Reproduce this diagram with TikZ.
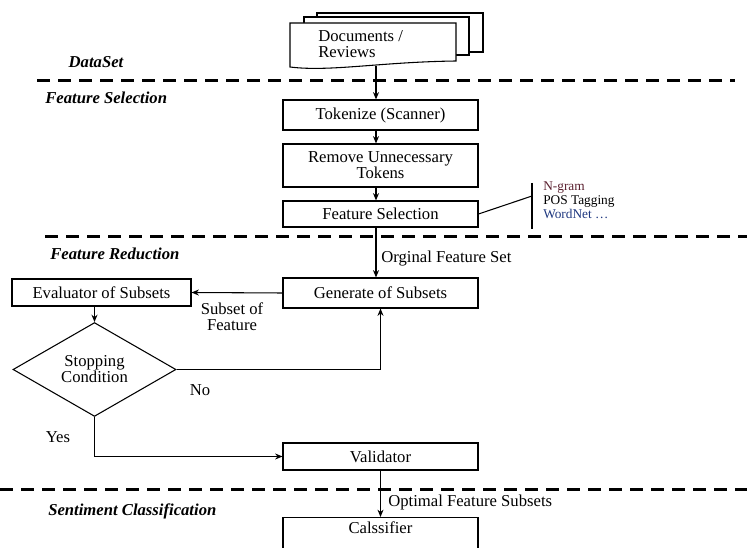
\documentclass[tikz,border=0pt]{standalone}
\usepackage{fontspec}
\setmainfont{Liberation Serif}
\usetikzlibrary{calc, positioning, arrows.meta, shapes.geometric}
\tikzstyle{box}=[draw, line width=0.8pt, shape=rectangle, inner sep=0pt, minimum width=146.25pt, align=center, font=\fontsize{12.5}{12}\selectfont]
\tikzstyle{sect}=[inner sep=0pt, font=\fontsize{12.5}{12}\selectfont\bfseries\itshape]
\tikzstyle{lbl}=[inner sep=0pt, align=center, font=\fontsize{12.5}{12}\selectfont]
\tikzstyle{tool}=[inner sep=0pt, align=left, font=\fontsize{10}{10.5}\selectfont]
\tikzstyle{sep}=[line width=2.25pt, dash pattern=on 9.75pt off 6pt]
\tikzstyle{page}=[draw, line width=0.8pt, fill=white]
\definecolor{ngram}{rgb}{0.35,0.12,0.18}
\definecolor{wnet}{rgb}{0.12,0.22,0.5}
\tikzset{>={Stealth[length=5.5pt, width=4.5pt]}}

\begin{document}
\begin{tikzpicture}[x=0.75pt, y=-0.75pt]
\useasboundingbox (0,0) rectangle (747,548);

% stacked documents
\draw[page] (317,13) rectangle (483,52);
\draw[page] (304,17) rectangle (469,55);
\draw[page] (290,23) -- (456,23) -- (456,61) .. controls (380,62) and (330,72) .. (290,67) -- cycle;
\node[lbl, align=left, anchor=west] (docs) at (318,44) {Documents /\\Reviews};
\coordinate (docsbot) at (376,66);

% layers
\draw[sep] (37,81) -- (735,81);
\draw[sep] (45,237) -- (747,237);
\draw[sep] (0,490) -- (747,490);
\node[sect] (dsl) at (96,62) {DataSet};
\node[sect, anchor=west] (fsl) at (45,98) {Feature Selection};
\node[sect, anchor=west] (frl) at (50,254) {Feature Reduction};
\node[sect, anchor=west] (scl) at (48,511) {Sentiment Classification};

% boxes
\node[box, minimum height=22.5pt] (tok) at (380.5,115) {Tokenize (Scanner)};
\node[box, minimum height=32.25pt] (rem) at (380.5,165.5) {Remove Unnecessary\\Tokens};
\node[box, minimum height=19.5pt] (fs) at (380.5,214) {Feature Selection};
\node[box, minimum height=22.5pt] (gen) at (380.5,293) {Generate of Subsets};
\node[box, minimum width=134.25pt, minimum height=20.25pt] (eva) at (101.5,292.5) {Evaluator of Subsets};
\node[box, diamond, minimum width=122.25pt, minimum height=59.25pt] (stop) at (94.5,369.5) {Stopping\\Condition};
\node[box, minimum height=20.25pt] (val) at (380.5,456.5) {Validator};
\node[box, anchor=north, inner ysep=5pt, text height=7pt, text depth=30pt] (clf) at (380.5,517) {Calssifier};

% feature selection methods
\coordinate (brkTop) at (532,183);
\coordinate (brkBot) at (532,229);
\coordinate (brk) at (532,196);
\draw[line width=0.8pt] (fs.east) -- (brk);
\draw[line width=0.8pt] (brkTop) -- (brkBot);
\node[tool, anchor=north west] (tools) at (543,182) {\textcolor{ngram}{N-gram}\\POS Tagging\\\textcolor{wnet}{WordNet \dots}};

% flow
\draw[->, line width=0.8pt] (docsbot) -- (tok.north -| docsbot);
\draw[->, line width=0.8pt] (tok.south -| docsbot) -- (rem.north -| docsbot);
\draw[->, line width=0.8pt] (rem.south -| docsbot) -- (fs.north -| docsbot);
\draw[->, line width=0.8pt] (fs.south -| docsbot) -- (gen.north -| docsbot);
\node[lbl, anchor=west] (ofs) at (381,259) {Orginal Feature Set};
\draw[->, line width=0.8pt] (gen.west) -- (eva.east);
\node[lbl] (sof) at (232,317) {Subset of\\Feature};
\draw[->, line width=0.8pt] (eva.south -| stop.north) -- (stop.north);
\draw[->, line width=0.8pt] (stop.east) -| (gen.south);
\node[lbl] (no) at (200,390) {No};
\draw[->, line width=0.8pt] (stop.south) |- (val.west);
\node[lbl] (yes) at (58,437) {Yes};
\draw[->, line width=0.8pt] (val.south) -- (clf.north);
\node[lbl, anchor=west] (opt) at (388,502) {Optimal Feature Subsets};
\end{tikzpicture}
\end{document}
